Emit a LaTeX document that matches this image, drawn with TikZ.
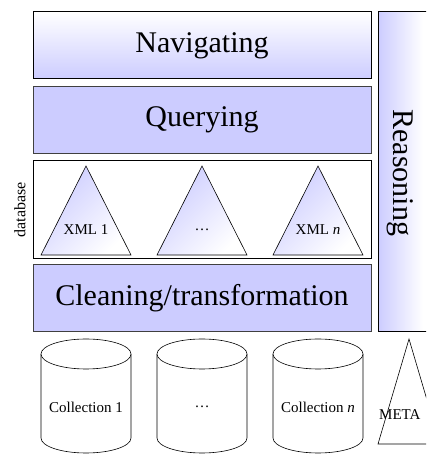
\documentclass[tikz,border=0pt]{standalone}
\usepackage{fontspec}
\setmainfont{Liberation Serif}
\definecolor{lav}{RGB}{204,204,255}

\begin{document}
\begin{tikzpicture}[
			x=1pt, y=1pt,
			layer style/.style={
				draw=black!75,
				line width=0.8pt,
				inner sep=0pt,
				minimum width=338pt,
				minimum height=67pt,
				font=\fontsize{30}{30}\selectfont,
				fill=lav
			},
			bold border/.style={draw=black, line width=1pt},
			tree style/.style={
				draw=black, line width=0.6pt,
				top color=lav, bottom color=white, shading angle=45
			},
			store style/.style={draw=black, line width=0.6pt, fill=white},
			small text/.style={font=\fontsize{15}{15}\selectfont, inner sep=0pt}
			]
			
			\useasboundingbox (0,0) rectangle (426,454);
			\clip (0,0) rectangle (426,454);
			
			% stacked layers
			\node[layer style, bold border, top color=white, bottom color=lav] (nav) at (202,408.5) {Navigating};
			\node[layer style] (query) at (202,334) {Querying};
			\node[layer style, bold border, fill=white, minimum height=98pt] (db) at (202,244) {};
			\node[layer style] (clean) at (202,156) {Cleaning/transformation};
			
			\node[rotate=90, font=\fontsize{16}{16}\selectfont, inner sep=0pt] (dblabel) at (20,244) {database};
			
			% side column
			\node[bold border, left color=lav, right color=white, middle color=white, minimum width=90pt, minimum height=320pt, inner sep=0pt] (reason) at (423,282) {};
			\node[rotate=-90, font=\fontsize{30}{30}\selectfont, inner sep=0pt] (reasonlabel) at (400,281) {Reasoning};
			
			% documents in the database
			\foreach \cx/\txt [count=\i] in {86/{XML 1}, 202/{\dots}, 318/{XML \textit{n}}} {
				\path[tree style] (\cx,288) -- (\cx+45,199) -- (\cx-45,199) -- cycle;
				\node[small text] (xml\i) at (\cx,224) {\txt};
			}
			
			% source collections
			\foreach \cx/\txt [count=\i] in {86/{Collection 1}, 202/{\dots}, 318/{Collection \textit{n}}} {
				\path[store style] (\cx-45,100) -- (\cx-45,16) arc (180:360:45pt and 15pt) -- (\cx+45,100) arc (0:180:45pt and 15pt) -- cycle;
				\draw[store style] (\cx-45,100) arc (180:360:45pt and 15pt);
				\node[small text] (coll\i) at (\cx,47) {\txt};
			}
			
			\path[store style] (409,115) -- (440,10) -- (378,10) -- cycle;
			\node[small text, anchor=west] (meta) at (379,39) {META};
			
		\end{tikzpicture}
\end{document}
